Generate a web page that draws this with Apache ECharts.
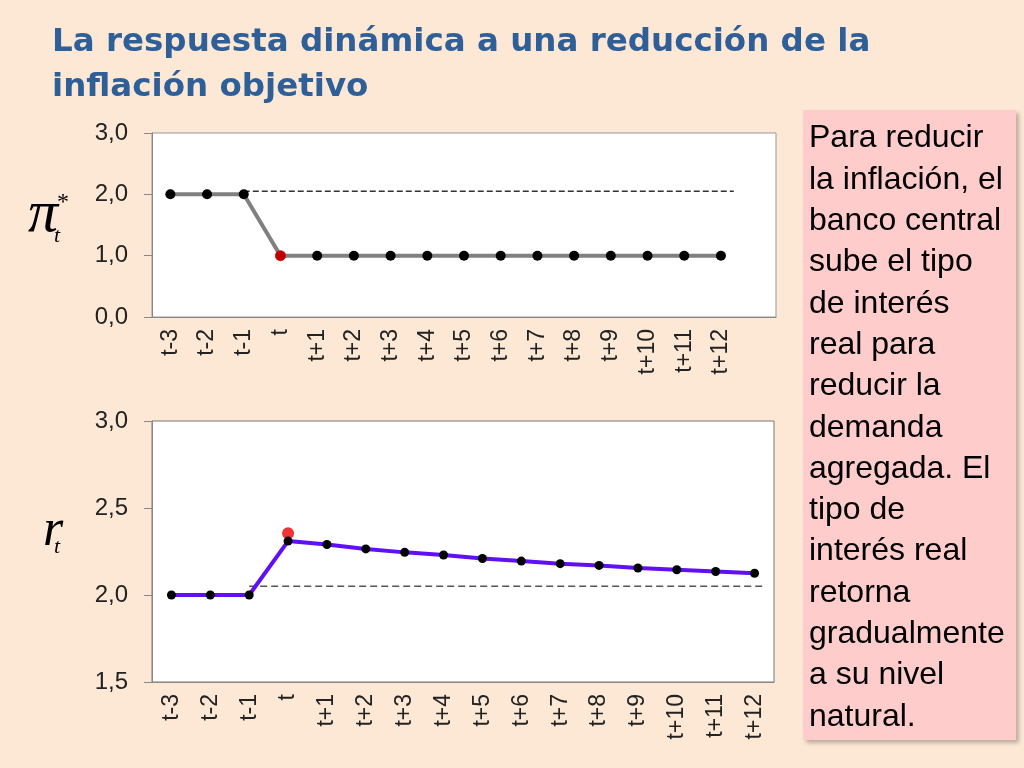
<!DOCTYPE html>
<html>
<head>
<meta charset="utf-8">
<script src="https://cdn.jsdelivr.net/npm/echarts@6/dist/echarts.min.js"></script>
<style>
  html, body { margin: 0; padding: 0; background: #fce8d5; }
  #chart { width: 1024px; height: 768px; }
</style>
</head>
<body>
<div id="chart"></div>
<script>
// periods shown on both charts
let periods = ['t-3', 't-2', 't-1', 't', 't+1', 't+2', 't+3', 't+4', 't+5', 't+6', 't+7', 't+8', 't+9', 't+10', 't+11', 't+12'];
// top chart has one empty slot at the end
let periodsTop = periods.concat(['']);

// inflation target pi*_t
let piTarget = [2.0, 2.0, 2.0, 1.0, 1.0, 1.0, 1.0, 1.0, 1.0, 1.0, 1.0, 1.0, 1.0, 1.0, 1.0, 1.0];
let piShock = [['t', 1.0]];
// real interest rate r_t
let realRate = [2.0, 2.0, 2.0, 2.31, 2.29, 2.265, 2.245, 2.23, 2.21, 2.195, 2.18, 2.17, 2.155, 2.145, 2.135, 2.125];
let rateShock = [['t', 2.355]];

// dashed reference lines (x in slot index units)
let piRef = [[2, 2.05], [15.35, 2.05]];
let rateRef = [[2, 2.05], [15.2, 2.05]];

let topTicks = [0, 3, 1];
let bottomTicks = [1.5, 3, 0.5];

let noteLines = ['Para reducir', 'la inflación, el', 'banco central', 'sube el tipo', 'de interés', 'real para', 'reducir la', 'demanda', 'agregada. El', 'tipo de', 'interés real', 'retorna', 'gradualmente', 'a su nivel', 'natural.'];

let chart = echarts.init(document.getElementById('chart'));

let font = 'Liberation Sans, Arial, sans-serif';

function catAxis(grid, data) {
    return {
        type: 'category', gridIndex: grid, data: data,
        axisLine: { onZero: false, lineStyle: { color: '#888' } },
        axisTick: { length: 8, lineStyle: { color: '#888' } },
        axisLabel: { rotate: 90, fontSize: 23, color: '#222', fontFamily: font, margin: 12, interval: 0 }
    };
}

function valAxis(grid, ticks) {
    return {
        type: 'value', gridIndex: grid, min: ticks[0], max: ticks[1], interval: ticks[2],
        axisLine: { show: true, onZero: false, lineStyle: { color: '#888' } },
        axisTick: { show: true, length: 8, lineStyle: { color: '#888' } },
        splitLine: { show: false },
        axisLabel: {
            fontSize: 24, color: '#222', fontFamily: font, margin: 24,
            formatter: v => v.toFixed(1).replace('.', ',')
        }
    };
}

function refAxis(grid, n) {
    return { type: 'value', gridIndex: grid, min: -0.5, max: n - 0.5, show: false, axisLine: { onZero: false } };
}

let option = {
    backgroundColor: '#fce8d5',
    animation: false,
    grid: [
        { left: 152, top: 133, width: 624, height: 184, show: true, backgroundColor: '#fff', borderColor: '#999' },
        { left: 152, top: 421, width: 622, height: 261, show: true, backgroundColor: '#fff', borderColor: '#777' }
    ],
    xAxis: [
        catAxis(0, periodsTop),
        catAxis(1, periods),
        refAxis(0, periodsTop.length),
        refAxis(1, periods.length)
    ],
    yAxis: [valAxis(0, topTicks), valAxis(1, bottomTicks)],
    series: [
        {
            type: 'line', xAxisIndex: 2, yAxisIndex: 0, data: piRef, symbol: 'none',
            lineStyle: { color: '#333', width: 1.3, type: [6, 3] }
        },
        {
            type: 'line', xAxisIndex: 0, yAxisIndex: 0, data: piTarget,
            symbol: 'circle', symbolSize: 10,
            itemStyle: { color: '#000' },
            lineStyle: { color: '#808080', width: 4 }
        },
        {
            type: 'scatter', xAxisIndex: 0, yAxisIndex: 0, data: piShock, z: 5,
            symbolSize: 11, itemStyle: { color: '#ee0000' }
        },
        {
            type: 'line', xAxisIndex: 3, yAxisIndex: 1, data: rateRef, symbol: 'none',
            lineStyle: { color: '#555', width: 1.5, type: [7, 4] }
        },
        {
            type: 'scatter', xAxisIndex: 1, yAxisIndex: 1, data: rateShock,
            symbolSize: 12, itemStyle: { color: '#ee0000' }
        },
        {
            type: 'line', xAxisIndex: 1, yAxisIndex: 1, data: realRate,
            symbol: 'circle', symbolSize: 9,
            itemStyle: { color: '#000' },
            lineStyle: { color: '#6010f5', width: 4 }
        }
    ],
    graphic: [
        {
            type: 'text', left: 52, top: 26,
            style: { text: 'La respuesta dinámica a una reducción de la', fill: '#2f5f98', font: 'bold 32.5px "DejaVu Sans", Verdana, sans-serif' }
        },
        {
            type: 'text', left: 52, top: 71,
            style: { text: 'inflación objetivo', fill: '#2f5f98', font: 'bold 32.5px "DejaVu Sans", Verdana, sans-serif' }
        },
        // axis names
        { type: 'text', left: 28, top: 185, style: { text: 'π', fill: '#000', font: 'italic 60px "Liberation Serif", serif' } },
        { type: 'text', left: 54, top: 225, style: { text: 't', fill: '#000', font: 'italic 22px "Liberation Serif", serif' } },
        { type: 'text', left: 57, top: 191, style: { text: '*', fill: '#000', font: '24px "Liberation Serif", serif' } },
        { type: 'text', left: 43, top: 505, style: { text: 'r', fill: '#000', font: 'italic 52px "Liberation Serif", serif' } },
        { type: 'text', left: 54, top: 536, style: { text: 't', fill: '#000', font: 'italic 22px "Liberation Serif", serif' } },
        // note box
        {
            type: 'rect', shape: { x: 803, y: 110, width: 213, height: 630 },
            style: { fill: '#ffcccc', shadowBlur: 4, shadowOffsetX: 3, shadowOffsetY: 3, shadowColor: 'rgba(0,0,0,0.25)' }
        },
        {
            type: 'text', left: 809, top: 118,
            style: { text: noteLines.join('\n'), fill: '#000', font: '32px "Liberation Sans", Arial, sans-serif', lineHeight: 41.3 }
        }
    ]
};

chart.setOption(option);
</script>
</body>
</html>
